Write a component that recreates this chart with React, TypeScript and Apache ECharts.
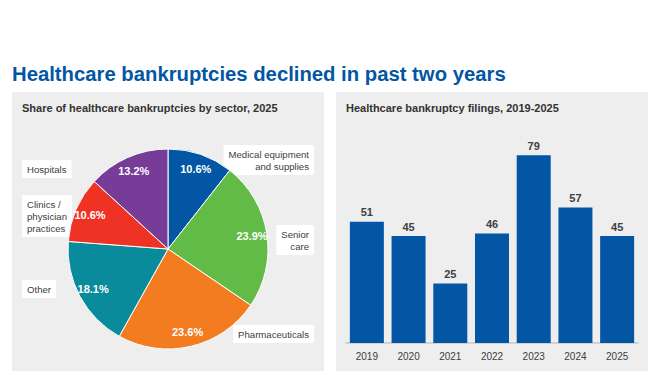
import React, { useEffect, useRef } from "react";
import * as echarts from "echarts";

const sectors = [
  "Medical equipment\nand supplies",
  "Senior\ncare",
  "Pharmaceuticals",
  "Other",
  "Clinics /\nphysician\npractices",
  "Hospitals",
];
const shares = [10.6, 23.9, 23.6, 18.1, 10.6, 13.2];
const sectorColors = ["#0256a4", "#63bb47", "#f47c20", "#0a8b9c", "#ee3224", "#763c97"];

const years = ["2019", "2020", "2021", "2022", "2023", "2024", "2025"];
const filings = [51, 45, 25, 46, 79, 57, 45];

const titleText = "Healthcare bankruptcies declined in past two years";
const leftSubtitle = "Share of healthcare bankruptcies by sector, 2025";
const rightSubtitle = "Healthcare bankruptcy filings, 2019-2025";

// label box anchor spots (layout only)
const labelSpots = [
  { x: 314, y: 160, align: "right" },
  { x: 314, y: 240, align: "right" },
  { x: 314, y: 334, align: "right" },
  { x: 22, y: 289, align: "left" },
  { x: 22, y: 216, align: "left" },
  { x: 22, y: 169, align: "left" },
];

const FONT = "'Liberation Sans', Arial, Helvetica, sans-serif";

export default function App() {
  const ref = useRef<HTMLDivElement>(null);
  useEffect(() => {
    document.body.style.margin = "0";
    if (!ref.current) return;
    const chart = echarts.init(ref.current, null, { renderer: "svg" });
    const pieCenter = [168, 249];
    chart.setOption({
      animation: false,
      backgroundColor: "#ffffff",
      textStyle: { fontFamily: FONT },
      graphic: [
        { type: "rect", z: -10, silent: true, shape: { x: 12, y: 92, width: 312, height: 279 }, style: { fill: "#eeeeee" } },
        { type: "rect", z: -10, silent: true, shape: { x: 336, y: 92, width: 312, height: 279 }, style: { fill: "#eeeeee" } },
        {
          type: "text", x: 12, y: 74,
          style: { text: titleText, fill: "#0256a4", font: `bold 20.3px ${FONT}`, textVerticalAlign: "middle" },
        },
        {
          type: "text", x: 22, y: 108,
          style: { text: leftSubtitle, fill: "#333333", font: `bold 11px ${FONT}`, textVerticalAlign: "middle" },
        },
        {
          type: "text", x: 346, y: 108,
          style: { text: rightSubtitle, fill: "#333333", font: `bold 11px ${FONT}`, textVerticalAlign: "middle" },
        },
      ],
      grid: { left: 346, top: 129, width: 292, height: 214 },
      xAxis: {
        type: "category",
        data: years,
        axisTick: { show: false },
        axisLine: { lineStyle: { color: "#d2d2d2", width: 2 } },
        axisLabel: { color: "#404040", fontSize: 10, margin: 8, fontFamily: FONT },
      },
      yAxis: { type: "value", min: 0, max: 90, show: false },
      series: [
        {
          // category name labels, drawn beneath the pie
          type: "pie",
          z: 1,
          center: pieCenter,
          radius: 100,
          startAngle: 90,
          clockwise: true,
          silent: true,
          avoidLabelOverlap: false,
          emphasis: { disabled: true },
          itemStyle: { color: "rgba(0,0,0,0)", borderWidth: 0 },
          data: sectors.map((n, i) => ({ name: n, value: shares[i] })),
          label: {
            show: true,
            position: "outside",
            formatter: "{b}",
            color: "#404040",
            fontSize: 9.6,
            lineHeight: 12,
            fontFamily: FONT,
            backgroundColor: "#ffffff",
            padding: [3, 5],
          },
          labelLine: { show: false },
          labelLayout: (p: any) => {
            const s = labelSpots[p.dataIndex];
            return { x: s.x, y: s.y, align: s.align, verticalAlign: "middle" };
          },
        },
        {
          type: "pie",
          z: 2,
          center: pieCenter,
          radius: 100,
          startAngle: 90,
          clockwise: true,
          avoidLabelOverlap: false,
          emphasis: { disabled: true },
          itemStyle: { borderColor: "#ffffff", borderWidth: 1 },
          data: sectors.map((n, i) => ({ name: n, value: shares[i], itemStyle: { color: sectorColors[i] } })),
          label: { show: false },
          labelLine: { show: false },
        },
        {
          type: "pie",
          z: 3,
          center: pieCenter,
          radius: [0, 164],
          startAngle: 90,
          clockwise: true,
          silent: true,
          avoidLabelOverlap: false,
          emphasis: { disabled: true },
          itemStyle: { color: "rgba(0,0,0,0)", borderWidth: 0 },
          data: sectors.map((n, i) => ({ name: n, value: shares[i] })),
          label: {
            show: true,
            position: "inside",
            formatter: (p: any) => `${p.value.toFixed(1)}%`,
            color: "#ffffff",
            fontWeight: "bold",
            fontSize: 11,
            fontFamily: FONT,
          },
          labelLine: { show: false },
        },
        {
          type: "bar",
          data: filings,
          barWidth: 34,
          itemStyle: { color: "#0256a4" },
          emphasis: { disabled: true },
          label: {
            show: true,
            position: "top",
            distance: 4,
            color: "#404040",
            fontWeight: "bold",
            fontSize: 11,
            fontFamily: FONT,
          },
        },
      ],
    });
    return () => chart.dispose();
  }, []);
  return <div ref={ref} style={{ width: 660, height: 371 }} />;
}
